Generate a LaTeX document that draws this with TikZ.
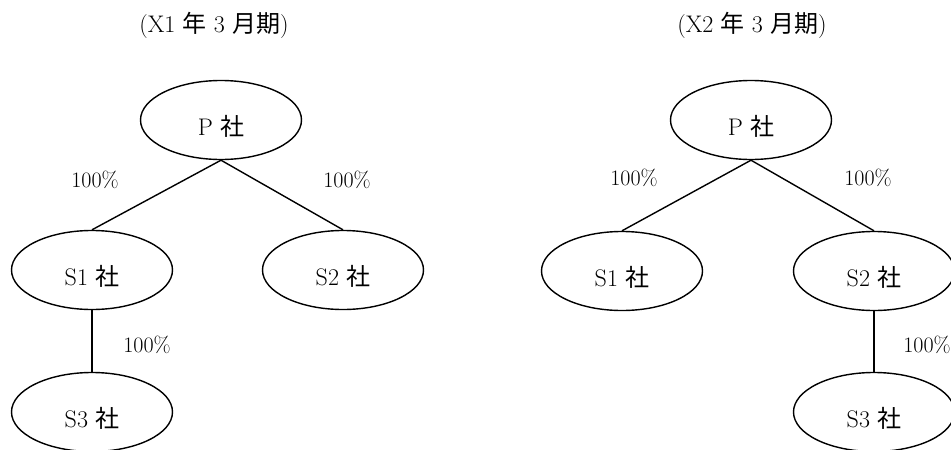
\documentclass[tikz,border=0pt]{standalone}
\usepackage{fontspec}
\newfontfamily\cjk{Noto Sans CJK JP}
\usetikzlibrary{shapes.geometric}
\begin{document}
\begin{tikzpicture}[x=1pt,y=-1pt,
  ent/.style={ellipse, draw, line width=1.4pt, minimum width=161pt, minimum height=79pt,
    inner sep=0pt, text height=30pt, text depth=0pt, font=\fontsize{24}{28}\selectfont},
  pct/.style={font=\fontsize{22}{26}\selectfont, inner sep=0pt},
  ttl/.style={font=\fontsize{24}{28}\selectfont, inner sep=0pt},
  link/.style={line width=1.4pt}]
\useasboundingbox (0,0) rectangle (951,450);

% left tree (X1)
\node[ttl] (t1) at (214,25) {(X1 {\cjk 年} 3 {\cjk 月期})};
\node[ent] (lp)  at (221,120) {P {\cjk 社}};
\node[ent] (ls1) at (92,270)  {S1 {\cjk 社}};
\node[ent] (ls2) at (343,270) {S2 {\cjk 社}};
\node[ent] (ls3) at (92,412)  {S3 {\cjk 社}};
\draw[link] (lp.south) -- (ls1.north);
\draw[link] (lp.south) -- (ls2.north);
\draw[link] (ls1.south) -- (ls3.north);
\node[pct] (lpa) at (95,180)  {100\%};
\node[pct] (lpb) at (347,180) {100\%};
\node[pct] (lpc) at (147,345) {100\%};

% right tree (X2)
\node[ttl] (t2) at (752,25) {(X2 {\cjk 年} 3 {\cjk 月期})};
\node[ent] (rp)  at (751,120) {P {\cjk 社}};
\node[ent] (rs1) at (622,271) {S1 {\cjk 社}};
\node[ent] (rs2) at (874,271) {S2 {\cjk 社}};
\node[ent] (rs3) at (874,412) {S3 {\cjk 社}};
\draw[link] (rp.south) -- (rs1.north);
\draw[link] (rp.south) -- (rs2.north);
\draw[link] (rs2.south) -- (rs3.north);
\node[pct] (rpa) at (634,178) {100\%};
\node[pct] (rpb) at (868,178) {100\%};
\node[pct] (rpc) at (927,345) {100\%};
\end{tikzpicture}
\end{document}
